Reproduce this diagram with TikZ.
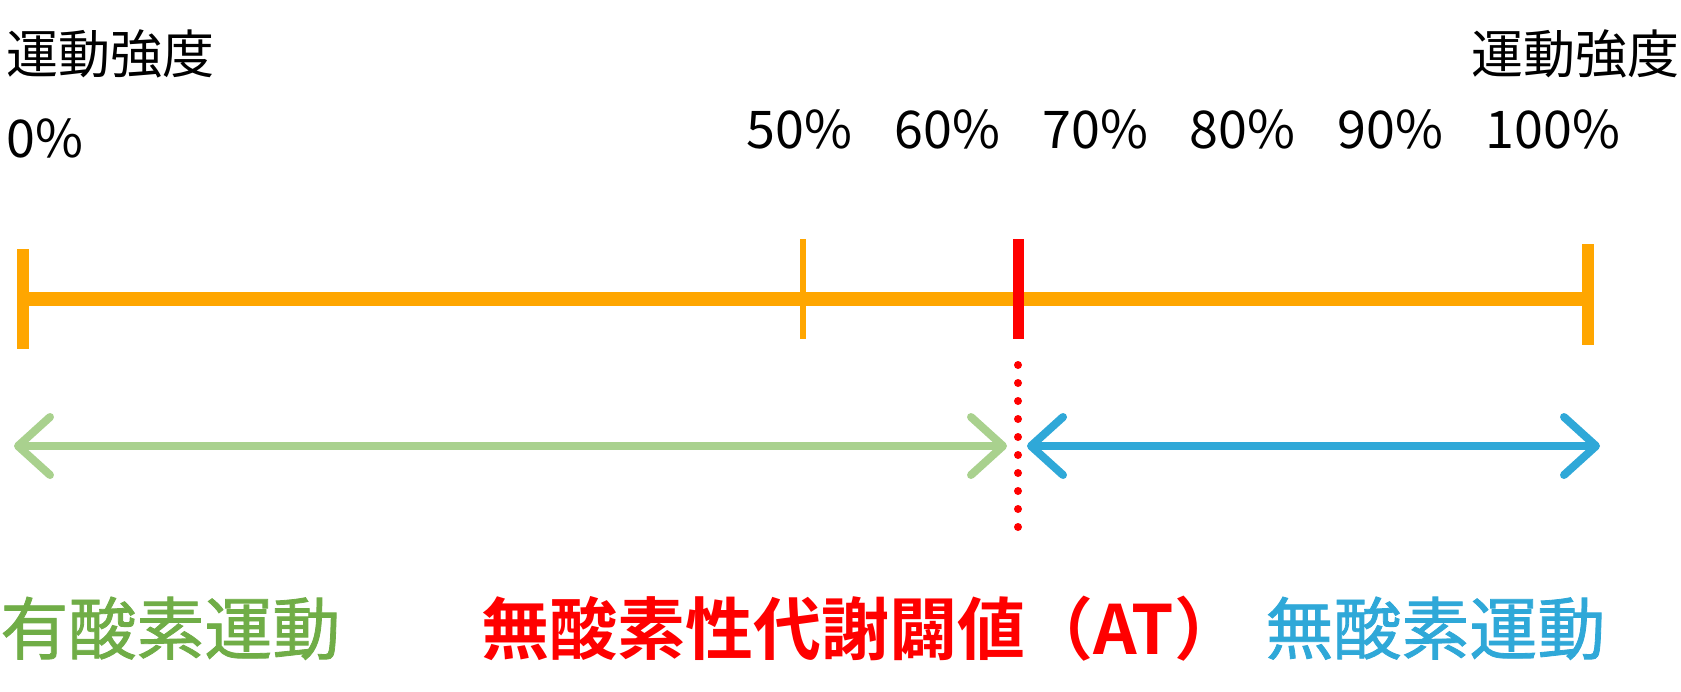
\documentclass[tikz,border=0pt]{standalone}
\usepackage{fontspec}
\usetikzlibrary{arrows.meta}
\setmainfont{Noto Sans CJK JP}
\newfontfamily\cjkmid[FakeBold=1.2]{Noto Sans CJK JP}
\newfontfamily\cjkbold{Noto Sans CJK JP Bold}
\definecolor{scaleorange}{RGB}{255,166,0}
\definecolor{atred}{RGB}{255,0,0}
\definecolor{aerogreen}{RGB}{169,209,142}
\definecolor{aerotext}{RGB}{112,173,71}
\definecolor{anaeroblue}{RGB}{47,168,216}
\begin{document}
\begin{tikzpicture}[x=0.5pt,y=-0.5pt,
  toplabel/.style={inner sep=0pt,anchor=base west,font=\fontsize{26pt}{26pt}\selectfont},
  bottomlabel/.style={inner sep=0pt,anchor=base west,font=\fontsize{34pt}{34pt}\selectfont},
  barb/.style={line width=4pt,line cap=round,
    {Straight Barb[length=16pt,width=29pt,line join=round,line cap=round]}-{Straight Barb[length=16pt,width=29pt,line join=round,line cap=round]}}]
\useasboundingbox (0,0) rectangle (1681,691);
% scale
\coordinate (p0) at (23,299);
\coordinate (p50) at (803,299);
\coordinate (at) at (1018.5,299);
\coordinate (p100) at (1588,299);
\draw[scaleorange,line width=7pt] (p0) -- (p100);
\draw[scaleorange,line width=6pt] ([yshift=25pt]p0) -- ([yshift=-25pt]p0);
\draw[scaleorange,line width=3pt] ([yshift=30pt]p50) -- ([yshift=-20pt]p50);
\draw[scaleorange,line width=6pt] ([yshift=27.5pt]p100) -- ([yshift=-23pt]p100);
\draw[atred,line width=5.5pt] ([yshift=30pt]at) -- ([yshift=-20pt]at);
% threshold
\coordinate (dtop) at (1018,365);
\coordinate (dbot) at (1018,527);
\draw[atred,line width=4pt,line cap=round,dash pattern=on 0pt off 9pt] (dtop) -- (dbot);
% ranges
\coordinate (gl) at (14,446);
\coordinate (gr) at (1007,446);
\coordinate (bl) at (1027,446);
\coordinate (br) at (1600,446);
\draw[barb,aerogreen] (gl) -- (gr);
\draw[barb,anaeroblue] (bl) -- (br);
% labels
\node[toplabel] (tl) at (6,73) {運動強度};
\node[toplabel] (tr) at (1471,73) {運動強度};
\node[toplabel] (l0) at (6.5,157) {0\%};
\node[toplabel] (l50) at (746.5,148) {50\%};
\node[toplabel] (l60) at (894.5,148) {60\%};
\node[toplabel] (l70) at (1042.5,148) {70\%};
\node[toplabel] (l80) at (1189.5,148) {80\%};
\node[toplabel] (l90) at (1337.5,148) {90\%};
\node[toplabel] (l100) at (1485.5,148) {100\%};
\node[bottomlabel,text=aerotext,font=\fontsize{34pt}{34pt}\cjkmid] (aero) at (0,654) {有酸素運動};
\node[bottomlabel,text=atred,font=\fontsize{34pt}{34pt}\cjkbold] (atlbl) at (481,654) {無酸素性代謝闢値（AT）};
\node[bottomlabel,text=anaeroblue,font=\fontsize{34pt}{34pt}\cjkmid] (anaero) at (1265,654) {無酸素運動};
\end{tikzpicture}
\end{document}
